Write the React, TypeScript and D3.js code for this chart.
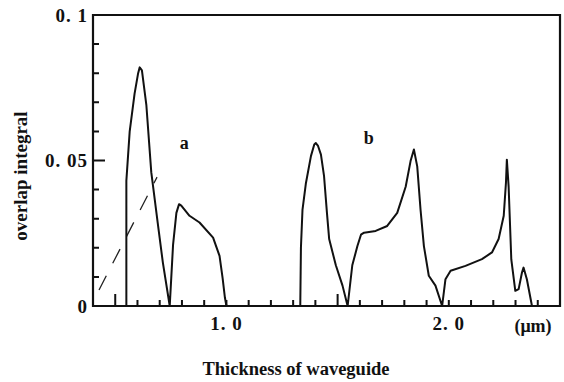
import * as d3 from "d3";

// thickness (um) / overlap integral
const curveA: [number, number][] = [
  [0.55, 0], [0.55, 0.043], [0.565, 0.06], [0.587, 0.073], [0.603, 0.08], [0.61, 0.082],
  [0.62, 0.081], [0.64, 0.069], [0.662, 0.046], [0.692, 0.028], [0.714, 0.015], [0.745, 0],
  [0.76, 0.021], [0.775, 0.032], [0.787, 0.035], [0.797, 0.0345], [0.834, 0.031],
  [0.879, 0.0287], [0.94, 0.0235], [0.969, 0.0172], [0.983, 0.0095], [0.993, 0.003], [1.0, 0],
];

const curveB: [number, number][] = [
  [1.332, 0], [1.335, 0.02], [1.342, 0.033], [1.357, 0.042], [1.38, 0.0515], [1.395, 0.0555],
  [1.402, 0.056], [1.412, 0.055], [1.425, 0.052], [1.439, 0.0446], [1.452, 0.032], [1.462, 0.023],
  [1.492, 0.014], [1.522, 0.007], [1.545, 0],
  [1.566, 0.014], [1.589, 0.0206], [1.605, 0.0245], [1.619, 0.0252], [1.671, 0.0258],
  [1.723, 0.0275], [1.768, 0.032], [1.806, 0.041], [1.828, 0.0498], [1.843, 0.0538],
  [1.858, 0.048], [1.873, 0.033], [1.888, 0.0206], [1.91, 0.0104], [1.94, 0.007], [1.97, 0],
  [1.985, 0.0092], [2.008, 0.0121], [2.075, 0.0138], [2.149, 0.0161], [2.194, 0.0184],
  [2.224, 0.023], [2.247, 0.031], [2.257, 0.0424], [2.261, 0.0503], [2.269, 0.041],
  [2.281, 0.016], [2.299, 0.0052], [2.314, 0.0058], [2.329, 0.0115], [2.336, 0.0132],
  [2.351, 0.0092], [2.374, 0],
];

// dashed guide line near curve a
const guideLine: [number, number][] = [[0.427, 0.0055], [0.688, 0.0443]];

const xTicks = d3.range(5, 25).map((d) => d / 10);
const yTicks = d3.range(1, 10).map((d) => d / 100);
const xLabels = [{ v: 1.0, t: "1. 0" }, { v: 2.0, t: "2. 0" }];
const yLabels = [{ v: 0, t: "0" }, { v: 0.05, t: "0. 05" }, { v: 0.1, t: "0. 1" }];
const curveLabels = [{ x: 0.81, y: 0.056, t: "a" }, { x: 1.64, y: 0.058, t: "b" }];

const width = 564;
const height = 382;
const font = "'Liberation Serif', 'DejaVu Serif', serif";
const ink = "#111";

export default function App() {
  const x = d3.scaleLinear().domain([0.4, 2.5]).range([93, 560]);
  const y = d3.scaleLinear().domain([0, 0.1]).range([306, 15]);
  const line = d3
    .line<[number, number]>()
    .x((d) => x(d[0]))
    .y((d) => y(d[1]));

  const near = (a: number, b: number) => Math.abs(a - b) < 1e-6;

  // all ticks point into the plot; half-micron and 0.05 ticks are longer
  const tickPath =
    xTicks
      .map((v) => {
        const len = near(v, 0.5) || near(v, 1.5) ? 12 : 6;
        return `M${x(v)},${y(0)}v${-len}`;
      })
      .join("") +
    yTicks
      .map((v) => {
        const len = near(v, 0.05) ? 12 : 6;
        return `M${x(0.4)},${y(v)}h${len}`;
      })
      .join("");

  return (
    <svg
      width={width}
      height={height}
      style={{ position: "absolute", left: 0, top: 0, background: "#fff" }}
      fontFamily={font}
    >
      <rect width={width} height={height} fill="#fff" />

      <path d={tickPath} fill="none" stroke={ink} strokeWidth={2} />

      {/* frame */}
      <path
        d={`M${x(0.4)},${y(0)}V${y(0.1)}H${x(2.5)}V${y(0)}Z`}
        fill="none"
        stroke={ink}
        strokeWidth={2.2}
      />

      {/* tick labels */}
      {xLabels.map((d) => (
        <text
          key={d.t}
          x={x(d.v)}
          y={y(0) + 24}
          textAnchor="middle"
          fontSize={19}
          fontWeight="bold"
          letterSpacing={1}
          fill={ink}
        >
          {d.t}
        </text>
      ))}
      {yLabels.map((d) => (
        <text
          key={d.t}
          x={x(0.4) - 5}
          y={y(d.v)}
          dy="0.35em"
          textAnchor="end"
          fontSize={19}
          fontWeight="bold"
          letterSpacing={1}
          fill={ink}
        >
          {d.t}
        </text>
      ))}
      <text x={533} y={y(0) + 26} textAnchor="middle" fontSize={18} fontWeight="bold" fill={ink}>
        (μm)
      </text>

      {/* axis titles */}
      <text x={296} y={375} textAnchor="middle" fontSize={18.5} fontWeight="bold" fill={ink}>
        Thickness of waveguide
      </text>
      <text
        transform="translate(27,176) rotate(-90)"
        textAnchor="middle"
        fontSize={19}
        fontWeight="bold"
        fill={ink}
      >
        overlap integral
      </text>

      {/* dashed guide */}
      <path
        d={line(guideLine) ?? ""}
        fill="none"
        stroke="#222"
        strokeWidth={1.3}
        strokeDasharray="16 14"
      />

      {/* curves */}
      {[curveA, curveB].map((c, i) => (
        <path
          key={i}
          d={line(c) ?? ""}
          fill="none"
          stroke={ink}
          strokeWidth={2}
          strokeLinejoin="round"
        />
      ))}

      {curveLabels.map((d) => (
        <text
          key={d.t}
          x={x(d.x)}
          y={y(d.y)}
          dy="0.35em"
          textAnchor="middle"
          fontSize={18}
          fontWeight="bold"
          fill={ink}
        >
          {d.t}
        </text>
      ))}
    </svg>
  );
}
